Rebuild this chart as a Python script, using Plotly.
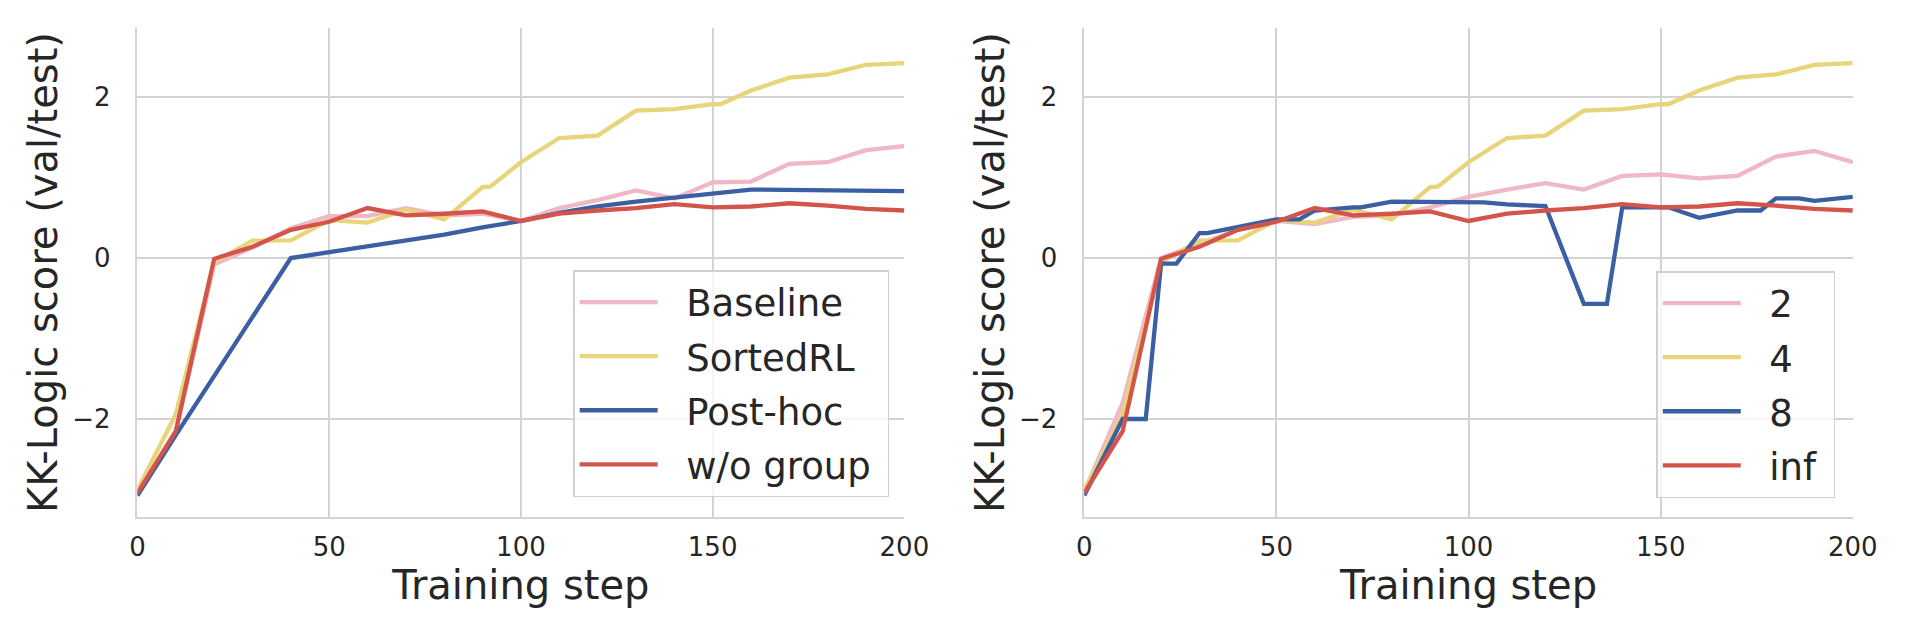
import plotly.graph_objects as go

# ---------------- data ----------------
steps = [0, 10, 20, 30, 40, 50, 60, 70, 80, 90, 100, 110, 120, 130, 140, 150, 160, 170, 180, 190, 200]

sorted_steps = [0, 10, 20, 30, 40, 50, 60, 70, 80, 90, 92, 100, 110, 120, 130, 140, 150, 152, 160, 170, 180, 190, 200]
sorted_rl = [-2.88, -1.94, -0.05, 0.215, 0.22, 0.47, 0.44, 0.60, 0.48, 0.88, 0.885, 1.19, 1.49, 1.52, 1.83, 1.85, 1.91, 1.91, 2.08, 2.24, 2.28, 2.40, 2.42]

baseline = [-2.93, -2.15, -0.08, 0.13, 0.37, 0.52, 0.52, 0.62, 0.53, 0.55, 0.46, 0.62, 0.72, 0.84, 0.74, 0.94, 0.95, 1.17, 1.19, 1.34, 1.39]

posthoc_steps = [0, 10, 40, 50, 60, 70, 80, 90, 100, 110, 120, 130, 140, 150, 160, 170, 180, 190, 200]
posthoc = [-2.95, -2.2, 0.0, 0.07, 0.14, 0.22, 0.29, 0.38, 0.46, 0.56, 0.64, 0.70, 0.745, 0.80, 0.85, 0.845, 0.84, 0.835, 0.83]

wo_group = [-2.92, -2.15, -0.01, 0.14, 0.35, 0.45, 0.62, 0.53, 0.55, 0.58, 0.46, 0.55, 0.59, 0.62, 0.67, 0.63, 0.64, 0.68, 0.65, 0.61, 0.59]

group2 = [-2.90, -1.80, 0.0, 0.17, 0.35, 0.46, 0.42, 0.51, 0.53, 0.63, 0.76, 0.85, 0.93, 0.85, 1.02, 1.04, 0.99, 1.02, 1.26, 1.33, 1.19]

group8_steps = [0, 10, 16, 20, 24, 30, 32, 40, 50, 56, 60, 70, 72, 80, 100, 104, 110, 120, 130, 136, 140, 150, 152, 160, 170, 176, 180, 186, 190, 200]
group8 = [-2.95, -2.0, -2.0, -0.07, -0.07, 0.31, 0.31, 0.39, 0.48, 0.48, 0.59, 0.63, 0.63, 0.70, 0.69, 0.69, 0.665, 0.645, -0.57, -0.57, 0.63, 0.63, 0.63, 0.50, 0.59, 0.59, 0.74, 0.74, 0.71, 0.76]

left_names = ["Baseline", "SortedRL", "Post-hoc", "w/o group"]
right_names = ["2", "4", "8", "inf"]

x_ticks = [0, 50, 100, 150, 200]
y_ticks = [-2, 0, 2]

colors = ["#F0B7C4", "#E8D47A", "#3B5FA3", "#D3544A"]

FONT = "DejaVu Sans"
TXT = "#262626"
GRID = "#d3d3d3"
PAD = "\u00a0\u00a0"
TAIL = "\u00a0"

fig = go.Figure()

left_series = [(steps, baseline), (sorted_steps, sorted_rl), (posthoc_steps, posthoc), (steps, wo_group)]
right_series = [(steps, group2), (sorted_steps, sorted_rl), (group8_steps, group8), (steps, wo_group)]

for i, ((xs, ys), name, c) in enumerate(zip(left_series, left_names, colors)):
    fig.add_trace(go.Scatter(x=xs, y=ys, mode="lines", name=PAD + name + TAIL,
                             line=dict(color=c, width=4.3), xaxis="x", yaxis="y",
                             legend="legend", legendgroup=f"L{i}"))
for i, ((xs, ys), name, c) in enumerate(zip(right_series, right_names, colors)):
    fig.add_trace(go.Scatter(x=xs, y=ys, mode="lines", name=PAD + name + TAIL,
                             line=dict(color=c, width=4.3), xaxis="x2", yaxis="y2",
                             legend="legend2", legendgroup=f"R{i}"))

yrange = [-3.217, 2.857]

def xax(domain, anchor):
    return dict(domain=domain, anchor=anchor, range=[0, 200], tickvals=x_ticks,
                showgrid=True, gridcolor=GRID, gridwidth=1.5, zeroline=False,
                showline=True, linecolor=GRID, linewidth=1.5,
                tickfont=dict(family=FONT, size=26, color=TXT),
                ticks="", ticklabelstandoff=6,
                title=dict(text="Training step", font=dict(family=FONT, size=40, color=TXT), standoff=1))

def yax(domain, anchor):
    return dict(domain=domain, anchor=anchor, range=yrange, tickvals=y_ticks,
                ticktext=["\u22122", "0", "2"],
                showgrid=True, gridcolor=GRID, gridwidth=1.5, zeroline=False,
                showline=True, linecolor=GRID, linewidth=1.5,
                tickfont=dict(family=FONT, size=26, color=TXT),
                ticks="", ticklabelstandoff=20,
                title=dict(text="KK-Logic score (val/test)", font=dict(family=FONT, size=40, color=TXT), standoff=2))

leg_common = dict(xanchor="left", yanchor="top",
                  bgcolor="rgba(255,255,255,0.8)", bordercolor="#d0d0d0", borderwidth=1.5,
                  font=dict(family=FONT, size=37, color=TXT), tracegroupgap=3, itemwidth=78)

ydom = [1 - 517 / 637, 1 - 28 / 637]
fig.update_layout(
    width=1926, height=637,
    margin=dict(l=0, r=0, t=0, b=0),
    paper_bgcolor="white", plot_bgcolor="white",
    font=dict(family=FONT, color=TXT),
    xaxis=xax([131.7 / 1926, 912 / 1926], "y"),
    yaxis=yax(ydom, "x"),
    xaxis2=xax([1095 / 1926, 1877 / 1926], "y2"),
    yaxis2=yax(ydom, "x2"),
    legend=dict(x=575 / 1926, y=1 - 270 / 637, **leg_common),
    legend2=dict(x=1677 / 1926, y=1 - 271 / 637, **leg_common),
    showlegend=True,
)

fig.write_html("out.html", config={"displayModeBar": False},
               post_script="document.body.style.margin='0';document.body.style.overflow='hidden';")
